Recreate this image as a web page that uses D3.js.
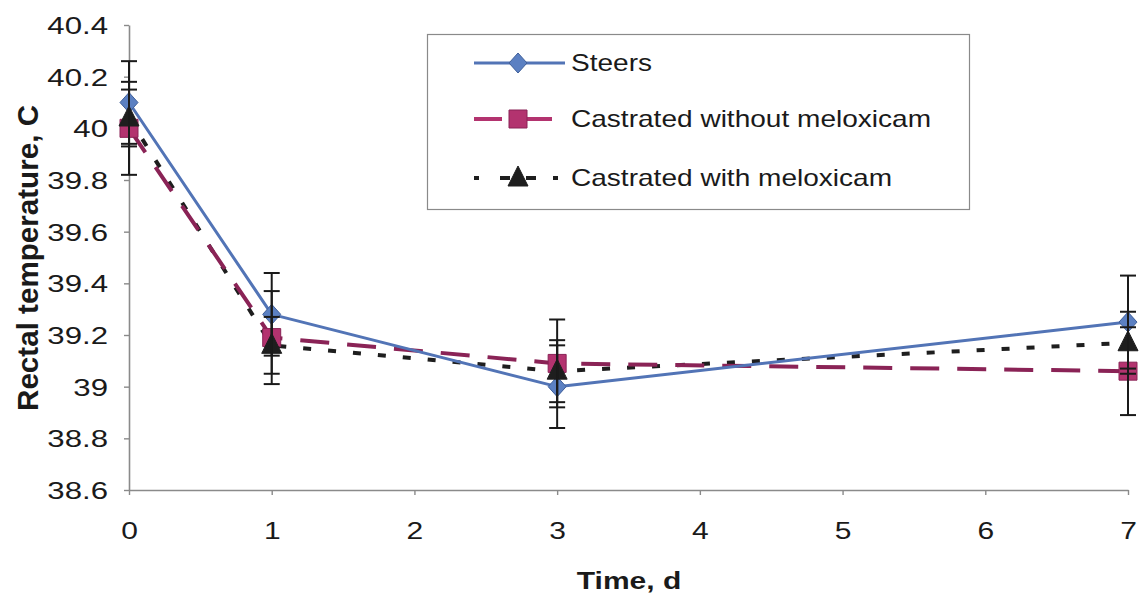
<!DOCTYPE html>
<html>
<head>
<meta charset="utf-8">
<script src="https://cdn.jsdelivr.net/npm/d3@7"></script>
<style>
  html, body { margin: 0; padding: 0; background: #fff; }
  svg { display: block; font-family: "Liberation Sans", Arial, sans-serif; }
</style>
</head>
<body>
<svg id="chart" width="1148" height="602"></svg>
<script>
// Rectal temperature by day after treatment (mean ± SE)
const days = [0, 1, 3, 7];
const xTicks = [0, 1, 2, 3, 4, 5, 6, 7];
const yTicks = [38.6, 38.8, 39, 39.2, 39.4, 39.6, 39.8, 40, 40.2, 40.4];
const seriesNames = ["Steers", "Castrated without meloxicam", "Castrated with meloxicam"];
const steers = [40.10, 39.28, 39.00, 39.25];
const steersErr = [0.16, 0.16, 0.16, 0.18];
const withoutMeloxicam = [40.00, 39.19, 39.09, 39.06];
const withoutMeloxicamErr = [0.18, 0.18, 0.17, 0.17];
const withMeloxicam = [40.04, 39.16, 39.06, 39.17];
const withMeloxicamErr = [0.11, 0.11, 0.12, 0.12];

const series = [
  { name: seriesNames[0], values: steers, err: steersErr, line: "#5274b6", fill: "#5b80c2", stroke: "#3f5f9a", marker: "diamond", dash: null, width: 3, legendDash: null, legendEnd: 565 },
  { name: seriesNames[1], values: withoutMeloxicam, err: withoutMeloxicamErr, line: "#8a2356", fill: "#b3336f", stroke: "#8a2356", marker: "square", dash: "29,18", width: 4, legendDash: "28,22,28", legendEnd: 552 },
  { name: seriesNames[2], values: withMeloxicam, err: withMeloxicamErr, line: "#1e1e1e", fill: "#1e1e1e", stroke: "#1e1e1e", marker: "triangle", dash: "8,17", width: 4, legendDash: "5,21,10,16,10,17,5", legendEnd: 558 }
];

const svg = d3.select("#chart");
const x = d3.scaleLinear().domain([0, 7]).range([129, 1128]);
const y = d3.scaleLinear().domain([38.6, 40.4]).range([490, 25]);
const sx = 1.25; // horizontal text stretch

// Marker shapes, centred on the origin
const markerPath = {
  diamond: "M0,-10L9,0L0,10L-9,0Z",
  square: "M-9,-9H9V9H-9Z",
  triangle: "M0,-12L10,8H-10Z"
};

// Axes
const yAxis = svg.append("g").attr("transform", `translate(${x(0)},0)`)
  .call(d3.axisLeft(y).tickValues(yTicks).tickSize(5).tickSizeOuter(0).tickFormat(d3.format("~g")));
const xAxis = svg.append("g").attr("transform", `translate(0,${y(38.6)})`)
  .call(d3.axisBottom(x).tickValues(xTicks).tickSize(5).tickSizeOuter(0).tickFormat(d3.format("d")));

[yAxis, xAxis].forEach(g => {
  g.select(".domain").attr("stroke", "#8a8a8a").attr("stroke-width", 1.6);
  g.selectAll(".tick line").attr("stroke", "#8a8a8a").attr("stroke-width", 1.4);
  g.selectAll("text").attr("fill", "#1a1a1a").style("font-size", "24px")
    .style("font-family", "'Liberation Sans', Arial, sans-serif");
});
yAxis.selectAll("text").attr("x", 0).attr("dy", "0.36em").attr("text-anchor", "end")
  .attr("transform", `translate(-21,0) scale(1.3,1)`);
xAxis.selectAll("text").attr("y", 0).attr("dy", "0.36em").attr("text-anchor", "middle")
  .attr("transform", `translate(0,40) scale(${sx},1)`);

// Axis titles
svg.append("text")
  .attr("transform", `translate(629,580) scale(${sx},1)`)
  .attr("dy", "0.36em").attr("text-anchor", "middle")
  .style("font-size", "24px").style("font-weight", "bold").attr("fill", "#1a1a1a")
  .text("Time, d");
svg.append("text")
  .attr("transform", `translate(27,258) rotate(-90) scale(1,${sx})`)
  .attr("dy", "0.36em").attr("text-anchor", "middle")
  .attr("textLength", 306).attr("lengthAdjust", "spacingAndGlyphs")
  .style("font-size", "24px").style("font-weight", "bold").attr("fill", "#1a1a1a")
  .text("Rectal temperature, C");

// Lines
const line = d3.line().x((d, i) => x(days[i])).y(d => y(d));
[series[2], series[1], series[0]].forEach(s => {
  svg.append("path")
    .attr("d", line(s.values))
    .attr("fill", "none")
    .attr("stroke", s.line)
    .attr("stroke-width", s.width)
    .attr("stroke-dasharray", s.dash)
    .attr("stroke-linejoin", "round");
});

// Markers
series.forEach(s => {
  svg.append("g").selectAll("path").data(s.values).join("path")
    .attr("transform", (d, i) => `translate(${x(days[i])},${y(d)})`)
    .attr("d", markerPath[s.marker])
    .attr("fill", s.fill)
    .attr("stroke", s.stroke)
    .attr("stroke-width", 1);
});

// Error bars
series.forEach(s => {
  const g = svg.append("g").attr("stroke", "#1a1a1a").attr("stroke-width", 2);
  s.values.forEach((v, i) => {
    const cx = x(days[i]);
    const top = y(v + s.err[i]), bot = y(v - s.err[i]);
    g.append("line").attr("x1", cx).attr("x2", cx).attr("y1", top).attr("y2", bot);
    g.append("line").attr("x1", cx - 8).attr("x2", cx + 8).attr("y1", top).attr("y2", top);
    g.append("line").attr("x1", cx - 8).attr("x2", cx + 8).attr("y1", bot).attr("y2", bot);
  });
});

// Legend
const legend = svg.append("g");
legend.append("rect")
  .attr("x", 427.5).attr("y", 34.5).attr("width", 542).attr("height", 175)
  .attr("fill", "#fff").attr("stroke", "#8a8a8a").attr("stroke-width", 1.2);
const rowY = [63, 119, 178];
series.forEach((s, i) => {
  const r = legend.append("g").attr("transform", `translate(0,${rowY[i]})`);
  r.append("line").attr("x1", 474).attr("x2", s.legendEnd).attr("y1", 0).attr("y2", 0)
    .attr("stroke", i === 1 ? "#b3336f" : s.line).attr("stroke-width", s.width)
    .attr("stroke-dasharray", s.legendDash);
  r.append("path").attr("transform", "translate(518,0)")
    .attr("d", markerPath[s.marker])
    .attr("fill", s.fill).attr("stroke", s.stroke).attr("stroke-width", 1);
  r.append("text")
    .attr("transform", `translate(571,0) scale(1.22,1)`)
    .attr("dy", "0.36em")
    .style("font-size", "23px").attr("fill", "#1a1a1a")
    .text(s.name);
});
</script>
</body>
</html>
